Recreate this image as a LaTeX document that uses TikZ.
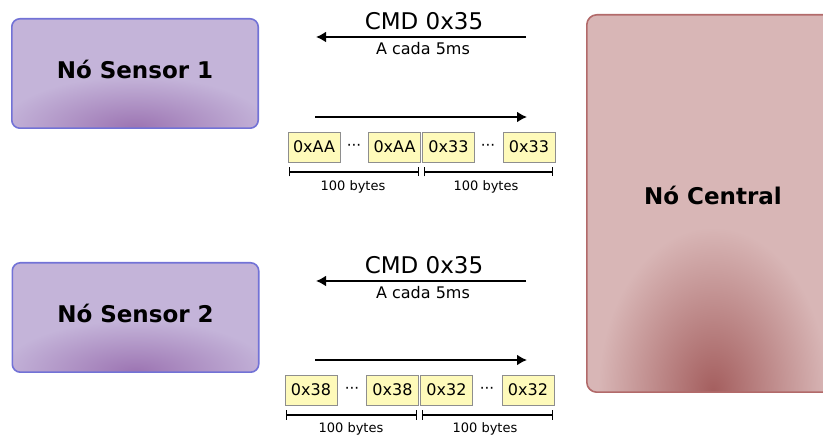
\documentclass[tikz,border=0pt]{standalone}
\usepackage{fontspec}
\setmainfont{DejaVu Sans}
\usetikzlibrary{arrows.meta,calc,backgrounds}

\definecolor{sensorfill}{HTML}{C4B4D9}
\definecolor{sensorline}{HTML}{7272D6}
\definecolor{sensordark}{HTML}{9C74B2}
\definecolor{centralfill}{HTML}{D8B6B6}
\definecolor{centralline}{HTML}{B26A6A}
\definecolor{centraldark}{HTML}{A45E5E}
\definecolor{bytefill}{HTML}{FEFABA}
\definecolor{byteline}{HTML}{8E8E8E}

% Rounded panel behind a node: flat fill, a radial glow rising from the
% bottom edge, then the outline.
% #1 node, #2 fill, #3 glow colour, #4 outline, #5 corner radius,
% #6 glow x-radius, #7 glow y-radius
\newcommand\glowpanel[7]{%
  \begin{scope}[on background layer]
    \fill[#2, rounded corners=#5] (#1.south west) rectangle (#1.north east);
    \begin{scope}
      \clip[rounded corners=#5] (#1.south west) rectangle (#1.north east);
      \shade[inner color=#3, outer color=#2]
        ($(#1.south)+(-#6,-#7)$) rectangle ($(#1.south)+(#6,#7)$);
    \end{scope}
    \draw[#4, line width=1.6pt, rounded corners=#5]
      (#1.south west) rectangle (#1.north east);
  \end{scope}}

\tikzset{
  sensorbox/.style={minimum width=246pt, minimum height=109pt,
    font=\fontsize{23}{27}\selectfont\bfseries,
    text height=17pt, text depth=7pt},
  centralbox/.style={minimum width=252pt, minimum height=377pt},
  centraltext/.style={font=\fontsize{23}{27}\selectfont\bfseries, inner sep=0pt},
  bytebox/.style={draw=byteline, line width=0.9pt, fill=bytefill,
    minimum width=52pt, minimum height=30pt, inner sep=0pt,
    font=\fontsize{16}{19}\selectfont},
  dots/.style={font=\fontsize{15}{17}\selectfont, inner sep=0pt, anchor=base},
  cmdtext/.style={font=\fontsize{23}{27}\selectfont, inner sep=0pt},
  periodtext/.style={font=\fontsize{16}{19}\selectfont, inner sep=0pt},
  sizetext/.style={font=\fontsize{13}{16}\selectfont, inner sep=0pt,
    text height=9.5pt, text depth=0pt},
  bigarrow/.style={line width=2.6pt, -{Latex[length=10pt,width=11pt]}},
  span/.style={line width=1.1pt, {Bar[width=9pt]}-{Bar[width=9pt]}},
}

\begin{document}
\begin{tikzpicture}[x=1pt, y=1pt]
\useasboundingbox (0,0) rectangle (823,437);
\clip (0,0) rectangle (823,437);

% the three nodes
\node[sensorbox] (s1) at (135,363.5) {Nó Sensor 1};
\node[sensorbox] (s2) at (135.5,119.5) {Nó Sensor 2};
\node[centralbox] (central) at (713,233.5) {};
\node[centraltext] (ctext) at (713,242) {Nó Central};

\glowpanel{s1}{sensorfill}{sensordark}{sensorline}{8pt}{135pt}{52pt}
\glowpanel{s2}{sensorfill}{sensordark}{sensorline}{8pt}{135pt}{52pt}
\glowpanel{central}{centralfill}{centraldark}{centralline}{10pt}{115pt}{165pt}

% ---- sensor 1 exchange ----
\coordinate (cmdAstart) at (526,400);
\coordinate (cmdAend) at (316,400);
\draw[bigarrow] (cmdAstart) -- (cmdAend);
\node[cmdtext] (cmdA) at (424,416) {CMD 0x35};
\node[periodtext] (perA) at (423,388) {A cada 5ms};

\coordinate (dataAstart) at (315,320);
\coordinate (dataAend) at (527,320);
\draw[bigarrow] (dataAstart) -- (dataAend);

\node[bytebox] (a1) at (314,290) {0xAA};
\node[dots]    (ad1) at (354,286) {···};
\node[bytebox] (a2) at (394.5,290) {0xAA};
\node[bytebox] (a3) at (448.5,290) {0x33};
\node[dots]    (ad2) at (488,286) {···};
\node[bytebox] (a4) at (529,290) {0x33};

\coordinate (sa1) at (289,265);
\coordinate (sa2) at (419,265);
\coordinate (sa3) at (424,265);
\coordinate (sa4) at (553,265);
\draw[span] (sa1) -- (sa2);
\draw[span] (sa3) -- (sa4);
\node[sizetext] (la1) at (353,251) {100 bytes};
\node[sizetext] (la2) at (486,251) {100 bytes};

% ---- sensor 2 exchange ----
\coordinate (cmdBstart) at (526,156);
\coordinate (cmdBend) at (316,156);
\draw[bigarrow] (cmdBstart) -- (cmdBend);
\node[cmdtext] (cmdB) at (424,172) {CMD 0x35};
\node[periodtext] (perB) at (423,144) {A cada 5ms};

\coordinate (dataBstart) at (315,77);
\coordinate (dataBend) at (527,77);
\draw[bigarrow] (dataBstart) -- (dataBend);

\node[bytebox] (b1) at (311,47) {0x38};
\node[dots]    (bd1) at (352,43) {···};
\node[bytebox] (b2) at (392.5,47) {0x38};
\node[bytebox] (b3) at (446.5,47) {0x32};
\node[dots]    (bd2) at (487,43) {···};
\node[bytebox] (b4) at (528,47) {0x32};

\coordinate (sb1) at (286,22);
\coordinate (sb2) at (417,22);
\coordinate (sb3) at (422,22);
\coordinate (sb4) at (553,22);
\draw[span] (sb1) -- (sb2);
\draw[span] (sb3) -- (sb4);
\node[sizetext] (lb1) at (351,9) {100 bytes};
\node[sizetext] (lb2) at (485,9) {100 bytes};
\end{tikzpicture}
\end{document}
